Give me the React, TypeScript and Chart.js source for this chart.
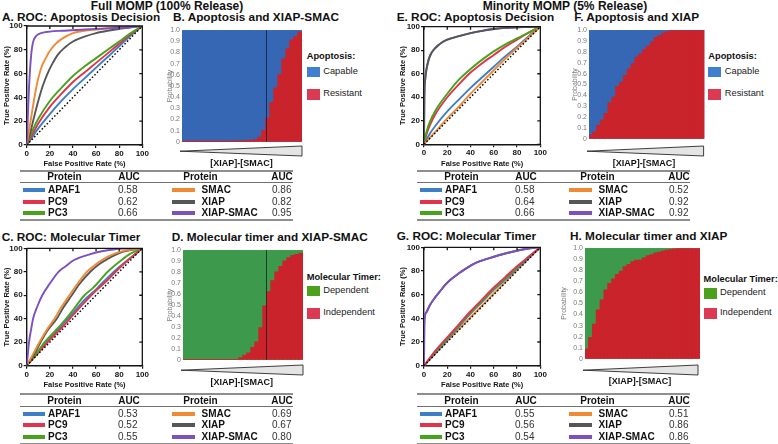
import React, { useEffect, useRef } from 'react';
import { Chart, registerables } from 'chart.js';

Chart.register(...registerables);

const FONT = '"Liberation Sans", Arial, Helvetica, sans-serif';

// ---------------- data ----------------
const proteins = ['APAF1', 'PC9', 'PC3', 'SMAC', 'XIAP', 'XIAP-SMAC'];
const lineColors = ['#3d7fc6', '#e1344c', '#48a21c', '#f08a35', '#565656', '#7d4fbf'];

const aucA = [0.58, 0.62, 0.66, 0.86, 0.82, 0.95];
const aucC = [0.53, 0.52, 0.55, 0.69, 0.67, 0.8];
const aucE = [0.58, 0.64, 0.66, 0.52, 0.92, 0.92];
const aucG = [0.55, 0.56, 0.54, 0.51, 0.86, 0.86];

const rocTicks = [0, 20, 40, 60, 80, 100];
const chanceLine = [[0, 0], [100, 100]];

// ROC curves: [false positive rate %, true positive rate %]
const A_APAF1 = [[0, 0], [5, 7], [10, 14], [20, 26], [30, 37], [40, 47], [50, 56], [60, 65], [70, 74], [80, 83], [90, 92], [100, 100]];
const A_PC9 = [[0, 0], [5, 9], [10, 18], [20, 32], [30, 43], [40, 53], [50, 61], [60, 69], [70, 77], [80, 85], [90, 93], [100, 100]];
const A_PC3 = [[0, 0], [5, 12], [10, 22], [20, 37], [30, 48], [40, 58], [50, 66], [60, 73], [70, 80], [80, 87], [90, 94], [100, 100]];
const A_SMAC = [[0, 0], [2, 12], [4, 24], [6, 36], [8, 47], [10, 56], [13, 66], [16, 72], [20, 79], [25, 85], [30, 89], [40, 94], [50, 96], [60, 97], [80, 99], [100, 100]];
const A_XIAP = [[0, 0], [3, 10], [6, 22], [10, 37], [14, 50], [18, 60], [22, 68], [27, 76], [33, 82], [40, 87], [50, 91], [60, 94], [70, 96], [80, 97.5], [90, 99], [100, 100]];
const A_XS = [[0, 0], [0.5, 10], [1, 25], [2, 48], [3, 65], [4, 77], [5, 84], [6, 88], [8, 91.5], [10, 93], [14, 94.5], [20, 95.3], [30, 96], [50, 97], [70, 98], [90, 99], [100, 100]];

const C_APAF1 = [[0, 0], [10, 12], [20, 23], [30, 34], [40, 45], [50, 56], [60, 65], [70, 75], [80, 84], [90, 92], [100, 100]];
const C_PC9 = [[0, 0], [10, 11], [20, 22], [30, 32], [40, 43], [50, 54], [60, 64], [70, 73], [80, 83], [90, 92], [100, 100]];
const C_PC3 = [[0, 0], [8, 10], [15.5, 20], [25, 30], [34, 40], [42, 50], [50, 60], [56, 65], [61, 70], [70, 80], [82, 90], [89, 95], [100, 100]];
const C_SMAC = [[0, 0], [5, 9], [11, 20], [17, 30], [24, 40], [30, 50], [37, 60], [44, 70], [52, 80], [58, 85], [65, 90], [75, 95], [85, 98], [100, 100]];
const C_XIAP = [[0, 0], [6, 9], [12, 20], [18, 30], [26, 40], [32, 50], [39, 60], [46, 70], [55, 80], [62, 86], [70, 91], [80, 96], [90, 98.5], [100, 100]];
const C_XS = [[0, 0], [1, 10], [2, 20], [4, 32], [5.5, 40], [9, 50], [13.5, 60], [20, 70], [27.5, 80], [34, 85], [41, 90], [55, 95], [65, 97.5], [75, 99], [85, 99.7], [100, 100]];

const E_APAF1 = [[0, 0], [5, 9], [10, 16], [20, 28], [30, 38], [40, 48], [50, 57], [60, 66], [70, 75], [80, 83], [90, 92], [100, 100]];
const E_PC9 = [[0, 0], [2, 8], [5, 16], [10, 26], [20, 40], [30, 51], [40, 61], [50, 69], [60, 76], [70, 83], [80, 89], [90, 95], [100, 100]];
const E_PC3 = [[0, 0], [2, 10], [5, 19], [10, 29], [20, 43], [30, 55], [40, 64], [50, 72], [60, 79], [70, 85], [80, 90], [90, 95], [100, 100]];
const E_SMAC = [[0, 0], [10, 11], [20, 22], [30, 32], [40, 43], [50, 53], [60, 63], [70, 73], [80, 82], [90, 91], [100, 100]];
const E_XIAP = [[0, 0], [0.3, 40], [1, 55], [2, 63], [4, 72], [6, 77], [8, 80], [12, 84], [16, 87], [20, 89], [30, 92], [40, 94.5], [50, 96.5], [60, 98], [70, 99], [80, 99.5], [100, 100]];
const E_XS = [[0, 0], [0.3, 40], [1, 55], [2, 63], [4, 72], [6, 77], [8, 80], [12, 84], [16, 87], [20, 89], [30, 92], [40, 94.5], [50, 96.5], [60, 98], [70, 99], [80, 99.5], [100, 100]];

const G_APAF1 = [[0, 0], [10, 11], [20, 22], [30, 33], [40, 44], [50, 54], [60, 64], [70, 73], [80, 82], [90, 91], [100, 100]];
const G_PC9 = [[0, 0], [10, 13], [20, 24], [30, 35], [40, 46], [50, 56], [60, 66], [70, 75], [80, 84], [90, 92], [100, 100]];
const G_PC3 = [[0, 0], [10, 12], [20, 23], [30, 34], [40, 45], [50, 55], [60, 65], [70, 74], [80, 83], [90, 92], [100, 100]];
const G_SMAC = [[0, 0], [10, 10.5], [20, 21], [30, 31], [40, 41], [50, 51], [60, 61], [70, 71], [80, 81], [90, 90.5], [100, 100]];
const G_XIAP = [[0, 0], [0.2, 30], [0.5, 40], [2, 45], [5, 51], [9, 57], [13.5, 62.5], [18, 68], [22, 72], [30, 78], [36, 82], [45, 87], [55, 90.5], [65, 93.5], [78, 96.7], [90, 99], [100, 100]];
const G_XS = [[0, 0], [0.2, 30], [0.5, 40], [2, 45], [5, 51], [9, 57], [13.5, 62.5], [18, 68], [22, 72], [30, 78], [36, 82], [45, 87], [55, 90.5], [65, 93.5], [78, 96.7], [90, 99], [100, 100]];

// stacking layer of each protein curve (higher = drawn on top)
const layersA = [1, 2, 3, 5, 4, 6];
const layersC = [1, 2, 3, 5, 4, 6];
const layersE = [2, 3, 4, 5, 6, 1];
const layersG = [3, 5, 4, 2, 1, 6];

// probability panels: 30 bins along [XIAP]-[SMAC]
const bins = Array.from({ length: 30 }, (_, i) => String(i + 1));
const resistantB = [0.003, 0.003, 0.003, 0.003, 0.003, 0.003, 0.003, 0.003, 0.003, 0.003, 0.003, 0.003, 0.004, 0.005, 0.006, 0.008, 0.01, 0.012, 0.017, 0.04, 0.1, 0.21, 0.35, 0.48, 0.6, 0.74, 0.83, 0.91, 0.94, 0.98];
const independentD = [0, 0, 0, 0, 0, 0, 0, 0, 0, 0, 0, 0, 0, 0, 0.018, 0.04, 0.06, 0.11, 0.16, 0.29, 0.49, 0.62, 0.72, 0.8, 0.85, 0.9, 0.93, 0.95, 0.96, 0.97];
const resistantF = [0.03, 0.06, 0.12, 0.17, 0.23, 0.33, 0.38, 0.48, 0.52, 0.58, 0.64, 0.69, 0.75, 0.78, 0.82, 0.85, 0.89, 0.93, 0.95, 0.97, 0.985, 0.995, 1, 1, 1, 1, 1, 1, 1, 1];
const independentH = [0.087, 0.19, 0.31, 0.44, 0.53, 0.62, 0.68, 0.72, 0.76, 0.79, 0.83, 0.85, 0.875, 0.89, 0.89, 0.91, 0.93, 0.94, 0.955, 0.962, 0.97, 0.98, 0.985, 0.99, 0.995, 1, 1, 1, 1, 1];
const thresholdB = 20.5;
const thresholdD = 20.3;

const barBlue = '#3567b4';
const barRed = '#c9232b';
const barGreen = '#3d9a4d';
const keyBlue = '#3f7fd0';
const keyRed = '#dc3a52';
const keyGreen = '#4ba11c';

// ---------------- plugins ----------------
const framePlugin = {
  id: 'frame',
  afterDraw(chart: any) {
    const { ctx, chartArea, scales } = chart;
    const { left, right, top, bottom } = chartArea;
    ctx.save();
    ctx.strokeStyle = '#151515';
    ctx.lineWidth = 1.3;
    ctx.beginPath();
    ctx.moveTo(left, top);
    ctx.lineTo(right, top);
    ctx.lineTo(right, bottom);
    scales.x.ticks.forEach((t: any) => {
      const px = scales.x.getPixelForValue(t.value);
      ctx.moveTo(px, top);
      ctx.lineTo(px, top + 3);
    });
    scales.y.ticks.forEach((t: any) => {
      const py = scales.y.getPixelForValue(t.value);
      ctx.moveTo(right, py);
      ctx.lineTo(right - 3, py);
    });
    ctx.stroke();
    ctx.restore();
  },
};

// paints the plot area in the "upper" category colour so that no hairline gaps show between bars
const areaFillPlugin = (color: string) => ({
  id: 'areaFill',
  beforeDatasetsDraw(chart: any) {
    const { ctx, chartArea } = chart;
    ctx.save();
    ctx.fillStyle = color;
    ctx.fillRect(chartArea.left, chartArea.top, chartArea.right - chartArea.left, chartArea.bottom - chartArea.top);
    ctx.restore();
  },
});

const thresholdPlugin = (value: number) => ({
  id: 'threshold',
  afterDatasetsDraw(chart: any) {
    const { ctx, chartArea, scales } = chart;
    const px = Math.round(scales.x.getPixelForValue(value)) + 0.5;
    ctx.save();
    ctx.strokeStyle = 'rgba(15,20,35,0.7)';
    ctx.lineWidth = 1;
    ctx.beginPath();
    ctx.moveTo(px, chartArea.top);
    ctx.lineTo(px, chartArea.bottom);
    ctx.stroke();
    ctx.restore();
  },
});

// ---------------- chart configs ----------------
type RocOpts = { yw: number; xh: number; padTop: number; padRight: number; curves: number[][][]; layers: number[] };

function rocConfig(o: RocOpts): any {
  const tickFont = { family: FONT, size: 8, weight: 'bold' as const };
  const titleFont = { family: FONT, size: 7.5, weight: 'bold' as const };
  const datasets: any[] = o.curves.map((c, i) => ({
    label: proteins[i],
    data: c.map(([x, y]) => ({ x, y })),
    borderColor: lineColors[i],
    borderWidth: 1.9,
    pointRadius: 0,
    fill: false,
    cubicInterpolationMode: 'monotone',
    order: 20 - o.layers[i],
  }));
  datasets.push({
    label: 'chance',
    data: chanceLine.map(([x, y]) => ({ x, y })),
    borderColor: '#000',
    borderWidth: 1.4,
    borderDash: [1.6, 2],
    pointRadius: 0,
    fill: false,
    order: 0,
  });
  return {
    type: 'line',
    data: { datasets },
    options: {
      responsive: false,
      animation: false,
      layout: { padding: { top: o.padTop, right: o.padRight, left: 0, bottom: 0 } },
      plugins: { legend: { display: false }, tooltip: { enabled: false } },
      scales: {
        x: {
          type: 'linear',
          min: 0,
          max: 100,
          afterBuildTicks: (s: any) => { s.ticks = rocTicks.map((v) => ({ value: v })); },
          afterFit: (s: any) => { s.height = o.xh; },
          ticks: { font: tickFont, color: '#151515', padding: 1, maxRotation: 0, autoSkip: false },
          grid: { drawOnChartArea: false, drawTicks: true, tickLength: 3, color: '#151515', lineWidth: 1.2 },
          border: { color: '#151515', width: 1.4 },
          title: { display: true, text: 'False Positive Rate (%)', font: titleFont, color: '#151515', padding: { top: 0, bottom: 1.5 } },
        },
        y: {
          type: 'linear',
          min: 0,
          max: 100,
          afterBuildTicks: (s: any) => { s.ticks = rocTicks.map((v) => ({ value: v })); },
          afterFit: (s: any) => { s.width = o.yw; },
          ticks: { font: tickFont, color: '#151515', padding: 1, autoSkip: false },
          grid: { drawOnChartArea: false, drawTicks: true, tickLength: 3, color: '#151515', lineWidth: 1.2 },
          border: { color: '#151515', width: 1.4 },
          title: { display: true, text: 'True Positive Rate (%)', font: titleFont, color: '#151515', padding: { top: 2.8, bottom: 2.8 } },
        },
      },
    },
    plugins: [framePlugin],
  };
}

type ProbOpts = { yw: number; padTop: number; padRight: number; padBottom: number; titlePad: number; lower: number[]; lowerColor: string; upperColor: string; lowerLabel: string; upperLabel: string; threshold?: number };

function probConfig(o: ProbOpts): any {
  const small = { family: FONT, size: 7 };
  const common = { borderWidth: 0, barPercentage: 1, categoryPercentage: 1, inflateAmount: 0.7 };
  const plugins: any[] = [areaFillPlugin(o.upperColor)];
  if (o.threshold != null) plugins.push(thresholdPlugin(o.threshold));
  return {
    type: 'bar',
    data: {
      labels: bins,
      datasets: [
        { label: o.lowerLabel, data: o.lower, backgroundColor: o.lowerColor, ...common },
        { label: o.upperLabel, data: o.lower.map((v) => 1 - v), backgroundColor: o.upperColor, ...common },
      ],
    },
    options: {
      responsive: false,
      animation: false,
      layout: { padding: { top: o.padTop, right: o.padRight, left: 0, bottom: o.padBottom } },
      plugins: { legend: { display: false }, tooltip: { enabled: false } },
      scales: {
        x: { stacked: true, display: false },
        y: {
          stacked: true,
          min: 0,
          max: 1,
          afterFit: (s: any) => { s.width = o.yw; },
          ticks: {
            stepSize: 0.1,
            font: small,
            color: '#7a7a7a',
            padding: 2,
            autoSkip: false,
            callback: (v: any) => (Number(v) === 0 ? '0' : Number(v).toFixed(1)),
          },
          grid: { display: false, drawTicks: false },
          border: { display: false },
          title: { display: true, text: 'Probability', font: small, color: '#7a7a7a', padding: { top: o.titlePad, bottom: o.titlePad } },
        },
      },
    },
    plugins,
  };
}

// ---------------- components ----------------
function ChartBox({ left, top, width, height, make }: { left: number; top: number; width: number; height: number; make: () => any }) {
  const ref = useRef<HTMLCanvasElement>(null);
  useEffect(() => {
    const chart = new Chart(ref.current as HTMLCanvasElement, make());
    return () => chart.destroy();
  }, []);
  return (
    <div style={{ position: 'absolute', left, top, width, height }}>
      <canvas ref={ref} width={width} height={height} style={{ display: 'block', width, height }} />
    </div>
  );
}

function Txt({ x, y, size = 10, bold = false, align = 'left', color = '#111', children }: any) {
  const tx = align === 'center' ? '-50%' : align === 'right' ? '-100%' : '0';
  return (
    <div
      style={{
        position: 'absolute',
        left: x,
        top: y,
        transform: `translate(${tx}, -50%)`,
        fontFamily: FONT,
        fontSize: size,
        fontWeight: bold ? 'bold' : 'normal',
        lineHeight: 1,
        whiteSpace: 'nowrap',
        color,
      }}
    >
      {children}
    </div>
  );
}

function HLine({ x, y, w, h, color }: any) {
  return <div style={{ position: 'absolute', left: x, top: y - h / 2, width: w, height: h, background: color }} />;
}

function Box({ x, y, w, h, color }: any) {
  return <div style={{ position: 'absolute', left: x, top: y, width: w, height: h, background: color }} />;
}

function AucTable({ x0, top, auc }: { x0: number; top: number; auc: number[] }) {
  const w = 273;
  const rowY = [19.3, 31, 42.6];
  return (
    <>
      <HLine x={x0} y={top} w={w} h={2} color="#8e8e8e" />
      <Txt x={x0 + 44.5} y={top + 6.3} bold align="center">Protein</Txt>
      <Txt x={x0 + 109} y={top + 6.3} bold align="center">AUC</Txt>
      <Txt x={x0 + 180.5} y={top + 6.3} bold align="center">Protein</Txt>
      <Txt x={x0 + 262} y={top + 6.3} bold align="center">AUC</Txt>
      <HLine x={x0} y={top + 12} w={w} h={1.5} color="#707070" />
      {rowY.map((ry, r) => (
        <React.Fragment key={r}>
          <HLine x={x0 + 3} y={top + ry} w={22} h={4} color={lineColors[r]} />
          <Txt x={x0 + 28} y={top + ry} bold>{proteins[r]}</Txt>
          <Txt x={x0 + 98} y={top + ry} color="#333">{auc[r].toFixed(2)}</Txt>
          <HLine x={x0 + 152} y={top + ry} w={23} h={4} color={lineColors[r + 3]} />
          <Txt x={x0 + 181.5} y={top + ry} bold>{proteins[r + 3]}</Txt>
          <Txt x={x0 + 252} y={top + ry} color="#333">{auc[r + 3].toFixed(2)}</Txt>
        </React.Fragment>
      ))}
      <HLine x={x0} y={top + 49.3} w={w} h={2} color="#8e8e8e" />
    </>
  );
}

function Wedge({ x0, x1, top, label, labelX, labelY }: any) {
  const w = x1 - x0;
  return (
    <>
      <svg style={{ position: 'absolute', left: x0, top, overflow: 'visible' }} width={w} height={10}>
        <polygon points={`0,5.2 ${w},0 ${w},10`} fill="#e4e4e4" stroke="#2a2a2a" strokeWidth={0.9} />
      </svg>
      <Txt x={labelX} y={labelY} size={9} bold align="center">{label}</Txt>
    </>
  );
}

function Key({ x, titleY, title, items }: any) {
  return (
    <>
      <Txt x={x} y={titleY} size={9.3} bold>{title}</Txt>
      {items.map((it: any, i: number) => (
        <React.Fragment key={i}>
          <Box x={x} y={it.y} w={13} h={10.5} color={it.color} />
          <Txt x={x + 16.5} y={it.y + 5.3} size={9.3} color="#222">{it.label}</Txt>
        </React.Fragment>
      ))}
    </>
  );
}

export default function App() {
  const titleSize = 11.8;
  return (
    <div style={{ position: 'absolute', left: 0, top: 0, width: 778, height: 444, background: '#fff', overflow: 'hidden' }}>
      <Txt x={167} y={5.5} size={12} bold align="center">Full MOMP (100% Release)</Txt>
      <Txt x={565} y={5.5} size={12} bold align="center">Minority MOMP (5% Release)</Txt>

      <Txt x={2} y={18} size={titleSize} bold>A. ROC: Apoptosis Decision</Txt>
      <Txt x={173} y={18} size={titleSize} bold>B. Apoptosis and XIAP-SMAC</Txt>
      <Txt x={396.7} y={18} size={titleSize} bold>E. ROC: Apoptosis Decision</Txt>
      <Txt x={574.3} y={18} size={titleSize} bold>F. Apoptosis and XIAP</Txt>
      <Txt x={1.7} y={237.5} size={titleSize} bold>C. ROC: Molecular Timer</Txt>
      <Txt x={171.7} y={237.5} size={titleSize} bold>D. Molecular timer and XIAP-SMAC</Txt>
      <Txt x={396.7} y={237.3} size={titleSize} bold>G. ROC: Molecular Timer</Txt>
      <Txt x={570} y={237.3} size={titleSize} bold>H. Molecular timer and XIAP</Txt>

      <ChartBox left={0} top={20} width={150} height={150}
        make={() => rocConfig({ yw: 26.7, xh: 25, padTop: 6, padRight: 5, curves: [A_APAF1, A_PC9, A_PC3, A_SMAC, A_XIAP, A_XS], layers: layersA })} />
      <ChartBox left={0} top={242} width={150} height={149}
        make={() => rocConfig({ yw: 26.7, xh: 25.3, padTop: 6.3, padRight: 5, curves: [C_APAF1, C_PC9, C_PC3, C_SMAC, C_XIAP, C_XS], layers: layersC })} />
      <ChartBox left={396} top={20} width={152} height={150}
        make={() => rocConfig({ yw: 28, xh: 25.7, padTop: 6.7, padRight: 5.3, curves: [E_APAF1, E_PC9, E_PC3, E_SMAC, E_XIAP, E_XS], layers: layersE })} />
      <ChartBox left={396} top={241} width={152} height={150}
        make={() => rocConfig({ yw: 28, xh: 25.3, padTop: 6.3, padRight: 5.3, curves: [G_APAF1, G_PC9, G_PC3, G_SMAC, G_XIAP, G_XS], layers: layersG })} />

      <ChartBox left={160} top={24} width={145} height={124}
        make={() => probConfig({ yw: 22, padTop: 5, padRight: 3, padBottom: 3, titlePad: 6.3, lower: resistantB, lowerColor: barRed, upperColor: barBlue, lowerLabel: 'Resistant', upperLabel: 'Capable', threshold: thresholdB })} />
      <ChartBox left={160} top={244} width={146} height={122}
        make={() => probConfig({ yw: 23, padTop: 5, padRight: 3, padBottom: 3, titlePad: 6.3, lower: independentD, lowerColor: barRed, upperColor: barGreen, lowerLabel: 'Independent', upperLabel: 'Dependent', threshold: thresholdD })} />
      <ChartBox left={560} top={24} width={148} height={121}
        make={() => probConfig({ yw: 29, padTop: 4.3, padRight: 3.7, padBottom: 2.3, titlePad: 11.3, lower: resistantF, lowerColor: barRed, upperColor: barBlue, lowerLabel: 'Resistant', upperLabel: 'Capable' })} />
      <ChartBox left={550} top={242} width={153} height={123}
        make={() => probConfig({ yw: 35, padTop: 5, padRight: 3, padBottom: 3, titlePad: 9.8, lower: independentH, lowerColor: barRed, upperColor: barGreen, lowerLabel: 'Independent', upperLabel: 'Dependent' })} />

      <Wedge x0={180} x1={302} top={145.7} label="[XIAP]-[SMAC]" labelX={241.6} labelY={163} />
      <Wedge x0={181} x1={303} top={365} label="[XIAP]-[SMAC]" labelX={241.7} labelY={381.7} />
      <Wedge x0={586.7} x1={703.3} top={145.7} label="[XIAP]-[SMAC]" labelX={644} labelY={163} />
      <Wedge x0={583.3} x1={698.3} top={365} label="[XIAP]-[SMAC]" labelX={640} labelY={381} />

      <Key x={306.7} titleY={56.7} title="Apoptosis:" items={[{ y: 66.7, color: keyBlue, label: 'Capable' }, { y: 89, color: keyRed, label: 'Resistant' }]} />
      <Key x={708.3} titleY={56.7} title="Apoptosis:" items={[{ y: 66.7, color: keyBlue, label: 'Capable' }, { y: 89, color: keyRed, label: 'Resistant' }]} />
      <Key x={306.7} titleY={277.8} title="Molecular Timer:" items={[{ y: 285.7, color: keyGreen, label: 'Dependent' }, { y: 308, color: keyRed, label: 'Independent' }]} />
      <Key x={703.5} titleY={280} title="Molecular Timer:" items={[{ y: 288, color: keyGreen, label: 'Dependent' }, { y: 308, color: keyRed, label: 'Independent' }]} />

      <AucTable x0={20} top={170.7} auc={aucA} />
      <AucTable x0={20} top={394.3} auc={aucC} />
      <AucTable x0={417} top={170.7} auc={aucE} />
      <AucTable x0={417} top={394.3} auc={aucG} />
    </div>
  );
}
